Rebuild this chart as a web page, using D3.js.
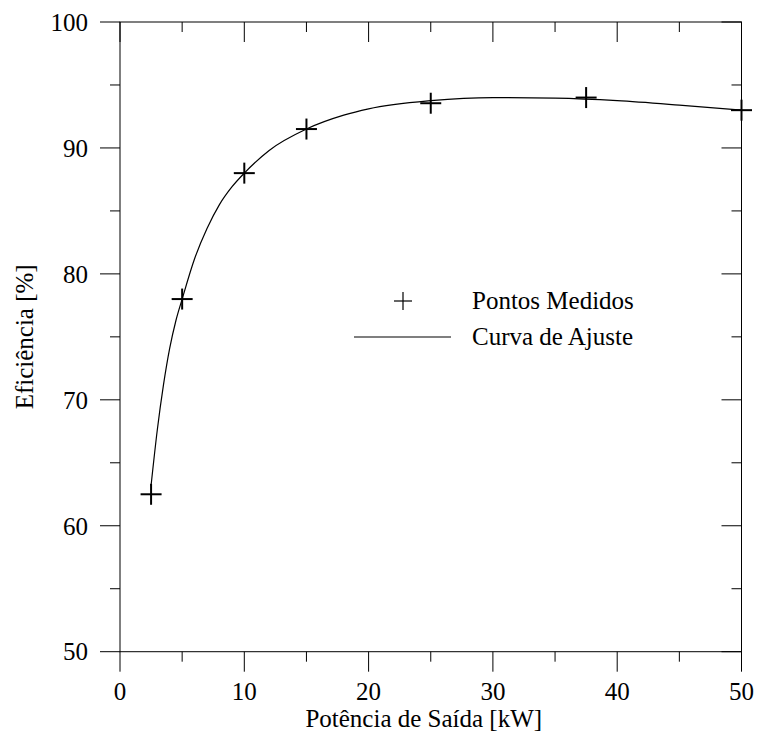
<!DOCTYPE html>
<html>
<head>
<meta charset="utf-8">
<script src="https://cdn.jsdelivr.net/npm/d3@7"></script>
<style>
  html, body { margin: 0; padding: 0; background: #fff; }
  svg { display: block; }
  text { font-family: "Liberation Serif", "Times New Roman", serif; fill: #000; }
</style>
</head>
<body>
<svg id="chart" width="759" height="740"></svg>
<script>
// Measured efficiency points (output power in kW, efficiency in %)
const powerKW = [2.5, 5, 10, 15, 25, 37.5, 50];
const efficiency = [62.5, 78, 88, 91.5, 93.55, 94.0, 93.0];

// Fitted curve samples
const fitPower = [2.5, 3, 3.5, 4, 4.5, 5, 6, 7, 8, 9, 10, 12, 15, 18, 20, 25, 30, 35, 40, 45, 50];
const fitEff = [63.2, 67.6, 71.2, 74.1, 76.3, 78.0, 81.2, 83.6, 85.5, 86.9, 88.0, 89.8, 91.5, 92.6, 93.1, 93.75, 94.0, 93.95, 93.75, 93.4, 93.0];

// Axis ticks
const xMajor = [0, 10, 20, 30, 40, 50];
const xMinor = [5, 15, 25, 35, 45];
const yMajor = [50, 60, 70, 80, 90, 100];
const yMinor = [55, 65, 75, 85, 95];

const xTitle = "Potência de Saída [kW]";
const yTitle = "Eficiência [%]";
const legendLabels = ["Pontos Medidos", "Curva de Ajuste"];

const svg = d3.select("#chart");
const L = 120, R = 741.5, T = 22, B = 651.7;
const x = d3.scaleLinear().domain([0, 50]).range([L, R]);
const y = d3.scaleLinear().domain([50, 100]).range([B, T]);

const FS = 25;
const MAJ = 20, MIN = 10;

const g = svg.append("g");

// Frame
g.append("rect")
  .attr("x", L).attr("y", T).attr("width", R - L).attr("height", B - T)
  .attr("fill", "none").attr("stroke", "#000").attr("stroke-width", 1);

// Bottom axis ticks (pointing down, outside) and top frame ticks (pointing down, inside)
xMajor.forEach(v => {
  g.append("line").attr("x1", x(v)).attr("x2", x(v)).attr("y1", B).attr("y2", B + MAJ)
    .attr("stroke", "#000").attr("stroke-width", 1);
  g.append("line").attr("x1", x(v)).attr("x2", x(v)).attr("y1", T).attr("y2", T + MAJ)
    .attr("stroke", "#000").attr("stroke-width", 1);
  g.append("text").attr("x", x(v)).attr("y", 700).attr("text-anchor", "middle")
    .attr("font-size", FS).text(v);
});
xMinor.forEach(v => {
  g.append("line").attr("x1", x(v)).attr("x2", x(v)).attr("y1", B).attr("y2", B + MIN)
    .attr("stroke", "#000").attr("stroke-width", 1);
  g.append("line").attr("x1", x(v)).attr("x2", x(v)).attr("y1", T).attr("y2", T + MIN)
    .attr("stroke", "#000").attr("stroke-width", 1);
});

// Left axis ticks (pointing left, outside) and right frame ticks (pointing left, inside)
yMajor.forEach(v => {
  g.append("line").attr("x1", L - MAJ).attr("x2", L).attr("y1", y(v)).attr("y2", y(v))
    .attr("stroke", "#000").attr("stroke-width", 1);
  g.append("line").attr("x1", R - MAJ).attr("x2", R).attr("y1", y(v)).attr("y2", y(v))
    .attr("stroke", "#000").attr("stroke-width", 1);
  g.append("text").attr("x", 88).attr("y", y(v)).attr("dy", "0.35em")
    .attr("text-anchor", "end").attr("font-size", FS).text(v);
});
yMinor.forEach(v => {
  g.append("line").attr("x1", L - MIN).attr("x2", L).attr("y1", y(v)).attr("y2", y(v))
    .attr("stroke", "#000").attr("stroke-width", 1);
  g.append("line").attr("x1", R - MIN).attr("x2", R).attr("y1", y(v)).attr("y2", y(v))
    .attr("stroke", "#000").attr("stroke-width", 1);
});

// Axis titles
g.append("text").attr("x", (L + R) / 2 - 7).attr("y", 727).attr("text-anchor", "middle")
  .attr("font-size", FS).text(xTitle);
g.append("text").attr("transform", `translate(33,${(T + B) / 2}) rotate(-90)`)
  .attr("text-anchor", "middle").attr("font-size", FS).text(yTitle);

// Fitted curve
const fit = fitPower.map((p, i) => [p, fitEff[i]]);
g.append("path").datum(fit)
  .attr("fill", "none").attr("stroke", "#000").attr("stroke-width", 1.2)
  .attr("d", d3.line().x(d => x(d[0])).y(d => y(d[1])).curve(d3.curveMonotoneX));

// Measured points as plus markers
const pts = powerKW.map((p, i) => [p, efficiency[i]]);
const arm = 10.5;
const mk = g.append("g").selectAll("g").data(pts).join("g")
  .attr("transform", d => `translate(${x(d[0])},${y(d[1])})`);
mk.append("line").attr("x1", -arm).attr("x2", arm).attr("stroke", "#000").attr("stroke-width", 2);
mk.append("line").attr("y1", -arm).attr("y2", arm).attr("stroke", "#000").attr("stroke-width", 2);

// Legend
const lg = g.append("g");
lg.append("line").attr("x1", 394).attr("x2", 412).attr("y1", 301).attr("y2", 301).attr("stroke", "#000").attr("stroke-width", 1.2);
lg.append("line").attr("x1", 403).attr("x2", 403).attr("y1", 292).attr("y2", 310).attr("stroke", "#000").attr("stroke-width", 1.2);
lg.append("text").attr("x", 472).attr("y", 309).attr("font-size", FS).text(legendLabels[0]);
lg.append("line").attr("x1", 354).attr("x2", 451).attr("y1", 337).attr("y2", 337).attr("stroke", "#000").attr("stroke-width", 1.2);
lg.append("text").attr("x", 472).attr("y", 345).attr("font-size", FS).text(legendLabels[1]);
</script>
</body>
</html>
